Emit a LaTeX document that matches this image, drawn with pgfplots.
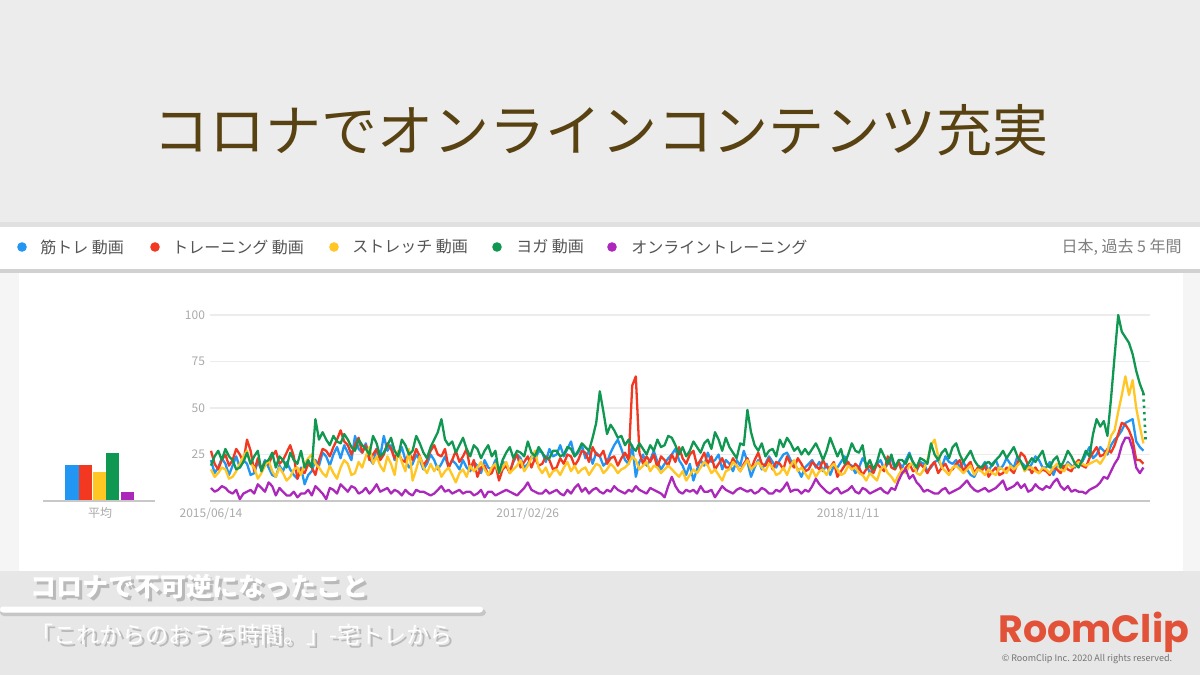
\documentclass[border=0pt]{standalone}
\usepackage{fontspec}
\setmainfont{Noto Sans CJK JP}
\newfontfamily\logofont{Poppins}
\usepackage{pgfplots}
\usepackage{pgfplotstable}
\pgfplotsset{compat=1.18}

\definecolor{gtblue}{RGB}{33,150,243}
\definecolor{gtred}{RGB}{242,56,32}
\definecolor{gtyellow}{RGB}{255,198,36}
\definecolor{gtgreen}{RGB}{16,152,82}
\definecolor{gtpurple}{RGB}{172,40,186}
\definecolor{titlebrown}{RGB}{88,66,18}
\definecolor{slidegray}{RGB}{236,236,236}
\definecolor{bottomgray}{RGB}{231,231,231}
\definecolor{stripgray}{RGB}{245,245,245}
\definecolor{gridgray}{RGB}{236,236,236}
\definecolor{basegray}{RGB}{200,200,200}
\definecolor{ticktext}{RGB}{170,170,170}
\definecolor{legtext}{RGB}{85,85,85}
\definecolor{logored}{RGB}{226,82,56}

% week index, 筋トレ/トレーニング/ストレッチ/ヨガ/オンライン
\pgfplotstableread{
w b r y g p
0 22 27 17 19 7
1 15 20 13 24 5
2 18 17 15 27 6
3 23 22 18 22 8
4 20 25 17 28 7
5 14 19 12 24 5
6 19 22 13 22 4
7 24 28 16 17 6
8 18 25 20 18 1
9 22 21 24 21 4
10 20 33 27 26 5
11 14 27 20 20 6
12 15 16 18 24 4
13 21 23 12 27 9
14 17 17 15 16 7
15 22 21 19 21 5
16 18 20 22 22 10
17 14 24 16 26 8
18 13 27 13 18 3
19 19 20 18 24 7
20 16 22 15 22 5
21 21 26 11 18 3
22 17 30 13 26 3
23 14 24 17 22 5
24 12 12 18 20 2
25 18 17 14 27 4
26 9 15 20 18 4
27 14 20 23 22 6
28 16 18 25 18 3
29 22 14 20 44 8
30 19 22 18 33 6
31 26 28 15 37 4
32 24 27 13 33 1
33 19 24 19 30 7
34 25 29 15 35 6
35 29 33 12 32 4
36 23 38 18 31 9
37 30 32 22 36 7
38 26 30 20 33 5
39 22 25 14 29 8
40 35 30 15 27 7
41 28 34 21 33 4
42 26 26 18 30 5
43 31 30 24 28 7
44 23 22 29 25 4
45 20 25 20 35 6
46 28 28 24 31 9
47 24 22 19 24 5
48 35 25 16 26 6
49 27 31 24 30 7
50 30 28 20 34 4
51 22 23 14 27 6
52 24 26 27 24 5
53 29 22 21 33 3
54 22 21 16 30 6
55 18 26 28 25 4
56 20 22 11 27 3
57 25 28 17 35 6
58 22 24 24 31 5
59 17 19 18 26 5
60 20 22 15 23 4
61 25 27 20 29 3
62 22 30 16 33 4
63 17 25 19 37 6
64 20 24 13 44 8
65 24 28 16 33 5
66 18 18 18 30 6
67 22 22 14 32 4
68 20 27 10 26 5
69 17 21 15 30 6
70 22 24 17 34 4
71 18 28 13 28 5
72 16 17 19 24 5
73 21 22 16 30 3
74 19 13 18 28 4
75 15 18 21 23 6
76 22 19 17 27 2
77 18 14 14 30 5
78 17 15 18 24 5
79 22 20 20 27 3
80 16 11 15 15 4
81 21 17 18 22 5
82 20 19 21 26 6
83 16 15 15 29 5
84 21 22 17 23 4
85 25 25 19 27 3
86 23 18 22 26 5
87 18 21 16 24 7
88 20 24 19 32 10
89 24 18 23 26 6
90 22 23 27 24 5
91 27 19 18 29 4
92 26 20 15 26 4
93 21 24 18 23 6
94 28 22 13 23 4
95 24 17 16 27 5
96 25 18 17 27 6
97 30 23 14 24 4
98 24 20 18 25 3
99 28 25 21 29 6
100 32 24 16 28 4
101 24 19 19 24 7
102 26 22 15 27 9
103 30 27 17 31 5
104 23 26 18 29 7
105 27 21 14 27 4
106 20 29 17 34 6
107 26 25 20 42 7
108 24 24 19 59 5
109 19 27 15 48 4
110 21 20 17 36 6
111 26 23 20 41 5
112 30 24 18 38 8
113 33 19 15 34 6
114 28 23 17 35 5
115 22 26 18 30 4
116 20 22 20 33 6
117 30 62 24 29 5
118 13 67 22 27 8
119 21 26 17 31 6
120 25 20 19 28 5
121 19 24 21 25 4
122 22 21 16 30 7
123 27 25 19 27 6
124 21 18 18 33 5
125 17 24 15 29 4
126 20 22 17 30 2
127 23 19 19 35 8
128 25 25 17 34 13
129 28 21 15 30 8
130 22 29 13 25 5
131 19 23 16 29 4
132 14 20 11 24 6
133 20 25 14 27 5
134 11 27 17 32 6
135 17 19 15 29 4
136 22 22 18 26 8
137 19 26 21 31 5
138 26 20 19 33 5
139 21 24 15 28 6
140 22 17 17 37 2
141 25 20 14 33 5
142 17 23 11 27 8
143 22 18 16 34 6
144 20 18 17 29 5
145 16 23 21 26 4
146 22 19 19 23 6
147 19 16 16 31 7
148 27 20 19 30 6
149 21 23 22 49 5
150 13 17 17 37 6
151 18 22 19 30 4
152 22 26 21 27 5
153 17 20 18 31 7
154 20 19 16 24 6
155 24 23 20 27 4
156 21 17 18 28 4
157 18 21 14 24 6
158 22 20 15 33 5
159 25 17 18 29 7
160 26 24 14 34 10
161 22 20 19 31 5
162 20 18 22 27 6
163 17 23 16 29 6
164 13 20 18 25 4
165 18 16 15 28 6
166 20 17 12 25 5
167 22 21 17 28 8
168 18 19 13 31 12
169 21 17 16 27 9
170 16 22 17 22 7
171 20 18 14 27 5
172 14 18 18 34 4
173 19 21 20 29 6
174 18 13 17 24 7
175 21 16 14 28 4
176 24 19 15 20 5
177 20 21 19 25 6
178 19 17 17 31 8
179 15 20 18 27 5
180 18 18 15 26 4
181 23 14 14 30 7
182 20 17 11 18 6
183 15 19 15 22 4
184 17 15 13 17 5
185 20 20 11 21 6
186 22 18 17 28 7
187 17 16 19 24 5
188 20 24 15 20 4
189 23 18 13 25 7
190 17 17 10 18 6
191 21 21 14 22 11
192 18 15 17 22 15
193 22 18 15 20 17
194 26 20 19 25 12
195 20 16 21 21 14
196 16 17 15 18 10
197 21 20 14 23 8
198 20 18 17 22 5
199 16 15 22 20 6
200 18 19 30 31 5
201 21 21 33 25 4
202 22 15 24 22 4
203 18 18 18 26 6
204 24 20 16 28 7
205 21 16 14 23 4
206 20 17 18 29 5
207 22 20 19 31 6
208 18 22 17 25 7
209 21 16 15 21 9
210 17 19 17 24 11
211 14 21 19 27 8
212 13 15 14 22 6
213 17 18 17 19 5
214 18 16 16 18 6
215 21 19 14 20 7
216 16 13 17 21 5
217 20 16 15 19 6
218 22 18 14 22 7
219 17 14 18 24 9
220 19 15 17 27 11
221 23 18 15 23 6
222 20 17 19 26 7
223 18 15 17 29 8
224 24 20 19 24 10
225 21 26 21 21 7
226 19 24 16 17 9
227 17 19 18 20 5
228 20 15 18 23 6
229 24 18 16 21 9
230 22 15 15 24 7
231 18 17 18 27 6
232 18 16 17 20 8
233 21 14 15 18 7
234 14 18 18 22 10
235 19 17 20 24 12
236 20 15 17 18 8
237 17 19 16 22 6
238 21 17 20 27 8
239 19 16 18 24 5
240 18 20 19 20 6
241 22 22 21 18 5
242 21 19 20 22 5
243 25 18 19 27 4
244 29 23 20 24 6
245 23 26 21 36 7
246 25 29 22 44 8
247 29 24 20 40 10
248 27 25 23 43 13
249 25 28 27 35 12
250 30 26 35 55 16
251 33 30 38 78 20
252 35 36 48 100 23
253 38 42 57 91 30
254 42 41 67 88 34
255 43 38 57 85 34
256 44 33 65 79 28
257 32 22 50 70 18
258 29 22 40 63 15
259 27 20 31 58 18
}\trends

\begin{document}
\begin{tikzpicture}[x=0.5pt,y=-0.5pt]
% slide background
\fill[slidegray] (0,0) rectangle (1200,675);
\fill[black!12] (0,222) rectangle (1200,227);
\fill[white] (0,227) rectangle (1200,269);
\fill[black!18] (0,269) rectangle (1200,273);
\fill[stripgray] (0,273) rectangle (1200,571);
\fill[white] (19,273) rectangle (1183,571);
\fill[bottomgray] (0,571) rectangle (1200,675);

% title
\node[font=\fontsize{28pt}{30pt}\selectfont, text=titlebrown] at (601,130) {コロナでオンラインコンテンツ充実};

% legend bar
\begin{scope}[every node/.style={anchor=west, font=\fontsize{8pt}{9.5pt}\selectfont, text=legtext, inner sep=0pt}]
\fill[gtblue] (22,247) circle (2.4pt);
\node at (40,247) {筋トレ 動画};
\fill[gtred] (155,247) circle (2.4pt);
\node at (172,247) {トレーニング 動画};
\fill[gtyellow] (334,247) circle (2.4pt);
\node at (352,247) {ストレッチ 動画};
\fill[gtgreen] (497,247) circle (2.4pt);
\node at (516,247) {ヨガ 動画};
\fill[gtpurple] (612,247) circle (2.4pt);
\node at (631,247) {オンライントレーニング};
\node[anchor=east, text=black!50] at (1182,247) {日本, 過去 5 年間};
\end{scope}

% average bars
\begin{axis}[
  at={(21.5pt,-250.5pt)}, anchor=south west,
  scale only axis, width=56pt, height=93pt,
  xmin=-1.13, xmax=7.1, ymin=0, ymax=100,
  axis lines=none, clip=false,
]
\addplot[ybar, bar width=6.6pt, bar shift=0pt, fill=gtblue, draw=none] coordinates {(1,19.4)};
\addplot[ybar, bar width=6.6pt, bar shift=0pt, fill=gtred, draw=none] coordinates {(2,19.4)};
\addplot[ybar, bar width=6.6pt, bar shift=0pt, fill=gtyellow, draw=none] coordinates {(3,15.8)};
\addplot[ybar, bar width=6.6pt, bar shift=0pt, fill=gtgreen, draw=none] coordinates {(4,26)};
\addplot[ybar, bar width=6.6pt, bar shift=0pt, fill=gtpurple, draw=none] coordinates {(5.1,5)};
\end{axis}
\draw[basegray, line width=0.6pt] (43,501) -- (155,501);
\node[font=\fontsize{6pt}{7pt}\selectfont, text=ticktext] at (100,513) {平均};

% trends chart
\begin{axis}[
  at={(105pt,-250.5pt)}, anchor=south west,
  scale only axis, width=470pt, height=93pt,
  xmin=-0.28, xmax=260.83, ymin=0, ymax=100,
  axis line style={draw=none},
  major tick length=0pt,
  ytick={25,50,75,100},
  xtick={0,88,177},
  xticklabels={2015/06/14,2017/02/26,2018/11/11},
  /pgf/number format/assume math mode=true,
  tick label style={font=\fontsize{6pt}{7pt}\selectfont, text=ticktext},
  yticklabel style={xshift=1pt},
  ymajorgrids, grid style={line width=0.6pt, gridgray},
  clip=false,
  every axis plot/.append style={line width=1.15pt, line join=round, mark=none},
]
\draw[basegray, line width=0.6pt] (axis cs:-0.28,0) -- (axis cs:260.83,0);
\addplot[gtblue] table[x=w, y=b] {\trends};
\addplot[gtred] table[x=w, y=r] {\trends};
\addplot[gtyellow] table[x=w, y=y] {\trends};
\addplot[gtgreen] table[x=w, y=g] {\trends};
\addplot[gtpurple] table[x=w, y=p] {\trends};
\addplot[gtgreen, dotted, line width=1.3pt] coordinates {(259,58) (259.6,33)};
\end{axis}

% bottom caption
\begin{scope}[font=\fontsize{13pt}{15pt}\selectfont\bfseries]
\node[anchor=west, text=black!45, opacity=0.5] at (26,590) {コロナで不可逆になったこと};
\node[anchor=west, text=white] at (23,587) {コロナで不可逆になったこと};
\end{scope}
\fill[black!35, opacity=0.5, rounded corners=2pt] (0,609) rectangle (486,616);
\fill[white, rounded corners=1.5pt] (0,606.5) rectangle (483,612.5);
\begin{scope}[font=\fontsize{11.5pt}{13pt}\selectfont]
\node[anchor=west, text=black!45, opacity=0.5] at (26,638) {「これからのおうち時間。」-宅トレから};
\node[anchor=west, text=white] at (23,635) {「これからのおうち時間。」-宅トレから};
\end{scope}

% logo
\node[anchor=west, font=\logofont\bfseries\fontsize{19pt}{20pt}\selectfont, text=logored, inner sep=0pt] at (998,632) {RoomClip};
\node[font=\fontsize{4.5pt}{5pt}\selectfont, text=black!55] at (1087,659) {© RoomClip Inc. 2020 All rights reserved.};
\end{tikzpicture}
\end{document}
